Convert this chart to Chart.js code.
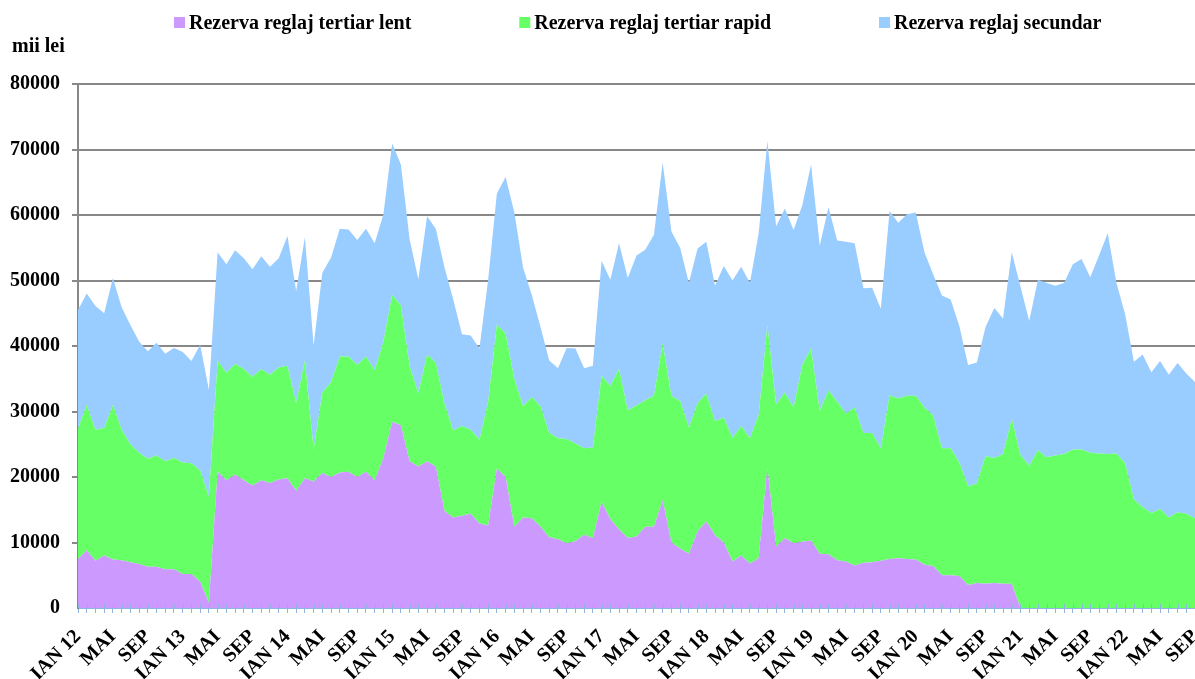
<!DOCTYPE html>
<html lang="ro">
<head>
<meta charset="utf-8">
<title>Rezerva reglaj</title>
<script src="https://cdn.jsdelivr.net/npm/chart.js@4.4.1/dist/chart.umd.min.js"></script>
<style>
  html, body { margin: 0; padding: 0; background: #fff; }
  #wrap { width: 1195px; height: 679px; }
</style>
</head>
<body>
<div id="wrap"><canvas id="rezerveChart" width="1195" height="679"></canvas></div>
<script>
// luni, ianuarie 2012 - septembrie 2022
const luni = ["IAN", "FEB", "MAR", "APR", "MAI", "IUN", "IUL", "AUG", "SEP", "OCT", "NOI", "DEC"];
const aniScurt = ["12", "13", "14", "15", "16", "17", "18", "19", "20", "21", "22"];

// mii lei
const tertiarLent = [
  7500, 8800, 7200, 8000, 7400, 7300, 7000, 6700, 6300, 6300, 5900, 5900, 5200, 5200, 4000, 800,
  20800, 19500, 20400, 19500, 18700, 19500, 19100, 19600, 19800, 17900, 19800, 19300, 20600, 20000, 20700, 20800, 20000, 20800, 19500, 22900,
  28400, 27900, 22400, 21600, 22400, 21600, 14800, 13800, 14100, 14400, 12900, 12600,
  21300, 20000, 12400, 13800, 13700, 12400, 10800, 10500, 9900, 10200, 11200, 10700,
  16200, 13600, 12000, 10700, 10900, 12400, 12400, 16500, 10000, 9100, 8300, 11700,
  13200, 11100, 10000, 7100, 8000, 6800, 7600, 21400, 9400, 10700, 9900, 10100,
  10300, 8300, 8200, 7300, 7100, 6500, 6900, 7000, 7200, 7500, 7600, 7500,
  7400, 6600, 6400, 5000, 5000, 4900, 3500, 3800, 3700, 3800, 3700, 3700,
  0, 0, 0, 0, 0, 0, 0, 0, 0, 0, 0, 0,
  0, 0, 0, 0, 0, 0, 0, 0, 0
];
const tertiarRapid = [
  19900, 22200, 20000, 19500, 23600, 19900, 18000, 17000, 16500, 17000, 16500, 17000, 17000, 16900, 17000, 16200,
  17000, 16400, 16900, 17000, 16600, 17000, 16500, 17100, 17200, 13400, 18000, 4900, 12300, 14500, 17700, 17600, 17100, 17600, 16800, 17800,
  19400, 18300, 14600, 11200, 16300, 15900, 16400, 13300, 13700, 12800, 12800, 18900,
  22000, 21900, 22600, 17000, 18500, 18400, 15900, 15400, 15900, 14900, 13200, 13800,
  19300, 20300, 24500, 19500, 20000, 19300, 20000, 23900, 22400, 22500, 19300, 19600,
  19500, 17400, 19100, 18900, 19800, 19100, 21900, 21800, 21700, 22200, 20700, 27000,
  29300, 21800, 25000, 24200, 22600, 24100, 19800, 19700, 17200, 25000, 24400, 24900,
  25000, 24000, 23000, 19400, 19400, 17300, 15100, 15200, 19500, 19100, 19800, 25200,
  23400, 21700, 24100, 23000, 23300, 23500, 24200, 24200, 23700, 23600, 23500, 23600,
  22100, 16600, 15400, 14500, 15100, 13800, 14600, 14400, 13700
];
const secundar = [
  18100, 17000, 18900, 17500, 19400, 18700, 18200, 17000, 16400, 17200, 16400, 16800, 16900, 15600, 19200, 16300,
  16500, 16600, 17300, 16900, 16400, 17200, 16500, 16700, 19800, 17100, 18800, 15900, 18300, 19000, 19500, 19400, 19100, 19500, 19400, 19400,
  23100, 21500, 19300, 17400, 21100, 20400, 20800, 20000, 14000, 14400, 13900, 18600,
  20000, 23900, 25400, 21200, 15600, 12100, 11100, 10700, 13900, 14500, 12200, 12500,
  17500, 16200, 19200, 20200, 22900, 23000, 24600, 27600, 25100, 23400, 22000, 23600,
  23200, 20700, 23100, 24000, 24300, 23700, 27700, 28100, 27200, 28100, 27100, 24400,
  28100, 25200, 28000, 24600, 26200, 25100, 22100, 22200, 21300, 28100, 26800, 27700,
  28000, 23700, 21500, 23300, 22700, 20800, 18500, 18500, 19700, 22900, 20700, 25400,
  25700, 22100, 26000, 26600, 25900, 26100, 28300, 29100, 26800, 30200, 33700, 26000,
  22700, 21000, 23300, 21500, 22600, 21800, 22800, 21400, 20800
];

// eticheta fiecarei luni: "IAN 12", "FEB", ...
const etichete = [];
aniScurt.forEach(an => {
  luni.forEach((l, m) => {
    if (etichete.length < tertiarLent.length) etichete.push(m === 0 ? l + " " + an : l);
  });
});

const FONT = '"Liberation Serif", "Times New Roman", serif';
const ALBASTRU_AXA = "#8eb4e3";

// legenda de sus si unitatea de masura
const legendaSus = {
  id: "legendaSus",
  afterDraw(chart) {
    const ctx = chart.ctx;
    ctx.save();
    ctx.font = "bold 20px " + FONT;
    ctx.textBaseline = "alphabetic";
    ctx.textAlign = "left";
    let x = 174;
    chart.data.datasets.forEach(ds => {
      ctx.fillStyle = ds.backgroundColor;
      ctx.fillRect(x, 17, 11, 11);
      ctx.fillStyle = "#000";
      ctx.fillText(ds.label, x + 15, 29);
      x += 15 + ctx.measureText(ds.label).width + 108;
    });
    ctx.fillText("mii lei", 12, 52);
    ctx.restore();
  }
};

// liniutele axei X trec si putin deasupra axei
const liniuteAxaX = {
  id: "liniuteAxaX",
  afterDraw(chart) {
    const sx = chart.scales.x;
    const ctx = chart.ctx;
    const y0 = chart.chartArea.bottom;
    ctx.save();
    ctx.strokeStyle = ALBASTRU_AXA;
    ctx.lineWidth = 1;
    ctx.beginPath();
    sx.ticks.forEach((t, i) => {
      const px = Math.round(sx.getPixelForTick(i)) + 0.5;
      ctx.moveTo(px, y0 - 4);
      ctx.lineTo(px, y0);
    });
    ctx.stroke();
    ctx.restore();
  }
};

const ctx = document.getElementById("rezerveChart").getContext("2d");

new Chart(ctx, {
  type: "line",
  data: {
    labels: etichete,
    datasets: [
      {
        label: "Rezerva reglaj tertiar lent",
        data: tertiarLent,
        backgroundColor: "#cc99ff",
        borderColor: "rgba(0,0,0,0)",
        fill: "origin",
      },
      {
        label: "Rezerva reglaj tertiar rapid",
        data: tertiarRapid,
        backgroundColor: "#66ff66",
        borderColor: "rgba(0,0,0,0)",
        fill: "-1",
      },
      {
        label: "Rezerva reglaj secundar",
        data: secundar,
        backgroundColor: "#99ccff",
        borderColor: "rgba(0,0,0,0)",
        fill: "-1",
      },
    ],
  },
  options: {
    responsive: false,
    animation: false,
    devicePixelRatio: 1,
    layout: { padding: { top: 84, left: 0, right: 0, bottom: 0 } },
    elements: {
      point: { radius: 0, hoverRadius: 0 },
      line: { tension: 0, borderWidth: 0 },
    },
    plugins: {
      legend: { display: false },
      tooltip: { enabled: false },
    },
    scales: {
      x: {
        offset: false,
        grid: {
          drawOnChartArea: false,
          drawTicks: true,
          tickLength: 5,
          color: ALBASTRU_AXA,
          lineWidth: 1,
        },
        border: { color: ALBASTRU_AXA, width: 2 },
        ticks: {
          autoSkip: false,
          maxRotation: 45,
          minRotation: 45,
          padding: 12,
          color: "#000",
          font: { family: FONT, size: 20, weight: "bold" },
          callback: (v, i) => (i % 4 === 0 ? etichete[i] : ""),
        },
        afterFit(scale) {
          scale.height = 71;
          scale.paddingLeft = 0;
          scale.paddingRight = 0;
        },
      },
      y: {
        stacked: true,
        min: 0,
        max: 80000,
        grid: {
          color: c => (c.tick && c.tick.value === 0 ? "rgba(0,0,0,0)" : "#888888"),
          lineWidth: 2,
          tickLength: 6,
        },
        border: { color: "#888888", width: 2 },
        ticks: {
          stepSize: 10000,
          padding: 12,
          color: "#000",
          font: { family: FONT, size: 20, weight: "bold" },
          callback: v => String(v),
        },
        afterFit(scale) {
          scale.width = 78;
        },
      },
    },
  },
  plugins: [legendaSus, liniuteAxaX],
});
</script>
</body>
</html>
